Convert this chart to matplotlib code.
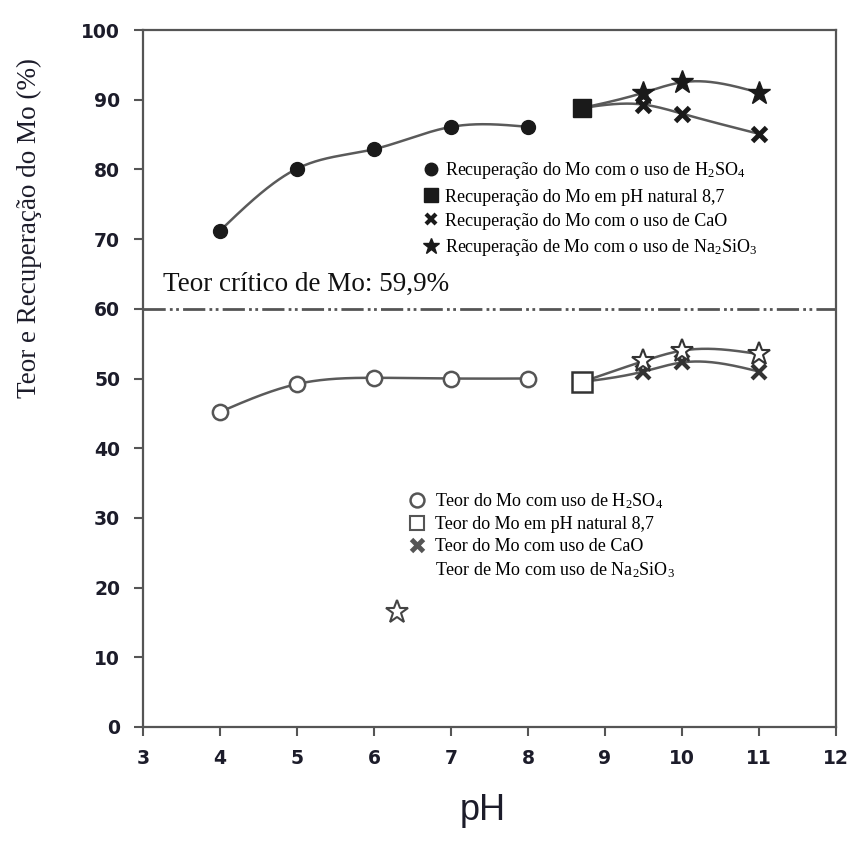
import numpy as np
import matplotlib
matplotlib.use("Agg")
import matplotlib.pyplot as plt
from matplotlib.lines import Line2D

plt.rcParams['mathtext.fontset'] = 'custom'
plt.rcParams['mathtext.rm'] = 'Liberation Serif'
plt.rcParams['mathtext.it'] = 'Liberation Serif:italic'
plt.rcParams['lines.scale_dashes'] = False

# ---------------- data ----------------
ph_acid = [4, 5, 6, 7, 8]
rec_acid = [71.2, 80.1, 82.9, 86.1, 86.1]
teor_acid = [45.2, 49.2, 50.1, 50.0, 50.0]

ph_nat = [8.7]
rec_nat = [88.8]
teor_nat = [49.5]

ph_base = [9.5, 10, 11]
rec_cao = [89.3, 88.0, 85.1]
rec_na = [91.0, 92.5, 91.0]
teor_cao = [51.0, 52.3, 51.0]
teor_na = [52.5, 54.0, 53.5]

stray_star_ph = [6.3]
stray_star_val = [16.5]

critical = 59.9

xticks = list(range(3, 13))
yticks = list(range(0, 101, 10))

# ---------------- helpers ----------------
def smooth(x, y, n=60):
    """Natural cubic spline through the points (drawing only)."""
    x = np.asarray(x, float); y = np.asarray(y, float)
    k = len(x)
    h = np.diff(x)
    A = np.zeros((k, k)); b = np.zeros(k)
    A[0, 0] = 1; A[-1, -1] = 1
    for i in range(1, k - 1):
        A[i, i - 1] = h[i - 1]
        A[i, i] = 2 * (h[i - 1] + h[i])
        A[i, i + 1] = h[i]
        b[i] = 6 * ((y[i + 1] - y[i]) / h[i] - (y[i] - y[i - 1]) / h[i - 1])
    M = np.linalg.solve(A, b)
    xs, ys = [], []
    for i in range(k - 1):
        xx = np.linspace(x[i], x[i + 1], n)
        a = (x[i + 1] - xx) / h[i]
        c = (xx - x[i]) / h[i]
        yy = (a * y[i] + c * y[i + 1]
              + ((a**3 - a) * M[i] + (c**3 - c) * M[i + 1]) * h[i]**2 / 6)
        xs.append(xx); ys.append(yy)
    return np.concatenate(xs), np.concatenate(ys)

line_kw = dict(color='#5a5a5a', lw=1.8, zorder=2)
dark = '#1a1a1a'
gray_edge = '#555555'
txt_col = '#1c1c2a'

fig = plt.figure(figsize=(8.54, 8.42), dpi=100)
ax = fig.add_axes([143 / 854, 1 - 727 / 842, 693 / 854, 697 / 842])

# curves
ax.plot(*smooth(ph_acid, rec_acid), **line_kw)
ax.plot(*smooth(ph_nat + ph_base, rec_nat + rec_cao), **line_kw)
ax.plot(*smooth(ph_nat + ph_base, rec_nat + rec_na), **line_kw)
ax.plot(*smooth(ph_acid, teor_acid), **line_kw)
ax.plot(*smooth(ph_nat + ph_base, teor_nat + teor_cao), **line_kw)
ax.plot(*smooth(ph_nat + ph_base, teor_nat + teor_na), **line_kw)

# recovery markers
ax.plot(ph_acid, rec_acid, 'o', ms=10, color=dark, zorder=4)
ax.plot(ph_nat, rec_nat, 's', ms=13, color=dark, zorder=4)
ax.plot(ph_base, rec_cao, 'x', ms=10, mew=3.5, color=dark, zorder=4)
ax.plot(ph_base, rec_na, '*', ms=17, color=dark, zorder=4)

# grade markers
ax.plot(ph_acid, teor_acid, 'o', ms=11, mfc='white', mec=gray_edge, mew=1.8, zorder=4)
ax.plot(ph_nat, teor_nat, 's', ms=14, mfc='white', mec='#333333', mew=1.8, zorder=4)
ax.plot(ph_base, teor_cao, 'x', ms=10, mew=3, color='#333333', zorder=4)
ax.plot(ph_base, teor_na, '*', ms=17, mfc='white', mec='#333333', mew=1.5, zorder=5)
ax.plot(stray_star_ph, stray_star_val, '*', ms=17, mfc='white', mec='#444444', mew=1.5, zorder=5)

# critical line
ax.axhline(critical, color='#555555', lw=2, dashes=(16, 3, 2, 2.5, 2, 3), zorder=1)
ax.text(3.26, 63.5, 'Teor crítico de Mo: 59,9%', family='Liberation Serif', fontsize=19.5,
        color='#111111', va='center', ha='left')

# axes styling
ax.set_xlim(3, 12)
ax.set_ylim(0, 100)
ax.set_xticks(xticks)
ax.set_yticks(yticks)
for s in ax.spines.values():
    s.set_color('#555555')
    s.set_linewidth(1.6)
ax.tick_params(direction='out', length=6.5, width=1.5, color='#555555')
ax.tick_params(axis='y', pad=10)
ax.tick_params(axis='x', pad=9)
for lab in ax.get_xticklabels() + ax.get_yticklabels():
    lab.set_family('DejaVu Sans')
    lab.set_fontweight('bold')
    lab.set_fontsize(13.5)
    lab.set_color(txt_col)

ax.set_xlabel('pH', family='Liberation Sans', fontsize=26, color=txt_col)
ax.xaxis.set_label_coords(0.49, -0.095)
ax.set_ylabel('Teor e Recuperação do Mo (%)', family='Liberation Serif', fontsize=19.5, color=txt_col)
ax.yaxis.set_label_coords(-0.146, 0.716)

# legends
leg_font = dict(family='Liberation Serif', size=13)
h1 = [Line2D([], [], ls='none', marker='o', ms=9, color=dark),
      Line2D([], [], ls='none', marker='s', ms=10, color=dark),
      Line2D([], [], ls='none', marker='x', ms=7, mew=3, color=dark),
      Line2D([], [], ls='none', marker='*', ms=12, color=dark)]
l1 = ['Recuperação do Mo com o uso de H$_2$SO$_4$',
      'Recuperação do Mo em pH natural 8,7',
      'Recuperação do Mo com o uso de CaO',
      'Recuperação de Mo com o uso de Na$_2$SiO$_3$']
leg1 = ax.legend(h1, l1, loc='upper left', bbox_to_anchor=(0.405, 0.813), frameon=False,
                 prop=leg_font, handlelength=0.8, handletextpad=0.4, labelspacing=0.4,
                 borderpad=0, borderaxespad=0)
ax.add_artist(leg1)

h2 = [Line2D([], [], ls='none', marker='o', ms=10, mfc='white', mec=gray_edge, mew=1.8),
      Line2D([], [], ls='none', marker='s', ms=10, mfc='white', mec=gray_edge, mew=1.5),
      Line2D([], [], ls='none', marker='x', ms=8, mew=3.5, color='#555555'),
      Line2D([], [], ls='none')]
l2 = ['Teor do Mo com uso de H$_2$SO$_4$',
      'Teor do Mo em pH natural 8,7',
      'Teor do Mo com uso de CaO',
      'Teor de Mo com uso de Na$_2$SiO$_3$']
ax.legend(h2, l2, loc='upper left', bbox_to_anchor=(0.385, 0.338), frameon=False,
          prop=leg_font, handlelength=0.8, handletextpad=0.6, labelspacing=0.28,
          borderpad=0, borderaxespad=0)

fig.savefig('out.png', dpi=100)
